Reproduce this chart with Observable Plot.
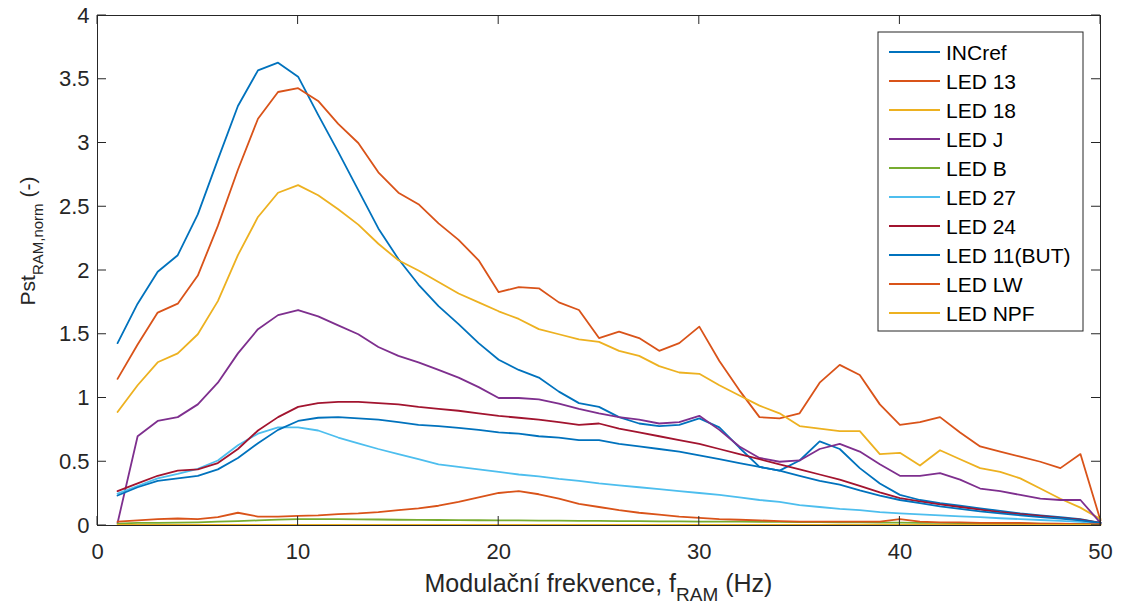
<!DOCTYPE html>
<html>
<head>
<meta charset="utf-8">
<script src="https://cdn.jsdelivr.net/npm/d3@7"></script>
<script src="https://cdn.jsdelivr.net/npm/@observablehq/plot@0.6"></script>
<style>
  html, body { margin: 0; padding: 0; background: #ffffff; }
  #chart { width: 1122px; height: 612px; }
</style>
</head>
<body>
<div id="chart"></div>
<script>
// ---- data ----
const freq = [1,2,3,4,5,6,7,8,9,10,11,12,13,14,15,16,17,18,19,20,21,22,23,24,25,26,27,28,29,30,31,32,33,34,35,36,37,38,39,40,41,42,43,44,45,46,47,48,49,50];

const incref = [1.43,1.74,1.99,2.12,2.44,2.87,3.29,3.57,3.63,3.52,3.22,2.93,2.63,2.33,2.09,1.89,1.72,1.58,1.43,1.30,1.22,1.16,1.05,0.96,0.93,0.85,0.80,0.78,0.79,0.84,0.77,0.61,0.46,0.43,0.51,0.66,0.60,0.45,0.33,0.24,0.20,0.175,0.155,0.135,0.115,0.095,0.08,0.065,0.05,0.02];
const led13 = [1.15,1.42,1.67,1.74,1.96,2.35,2.79,3.19,3.40,3.43,3.33,3.15,3.00,2.77,2.61,2.52,2.37,2.24,2.08,1.83,1.87,1.86,1.75,1.69,1.47,1.52,1.47,1.37,1.43,1.56,1.29,1.06,0.85,0.84,0.88,1.12,1.26,1.18,0.95,0.79,0.81,0.85,0.73,0.62,0.58,0.54,0.50,0.45,0.56,0.04];
const led18 = [0.89,1.10,1.28,1.35,1.50,1.76,2.12,2.42,2.61,2.67,2.59,2.48,2.36,2.21,2.08,2.00,1.91,1.82,1.75,1.68,1.62,1.54,1.50,1.46,1.44,1.37,1.33,1.25,1.20,1.19,1.10,1.02,0.94,0.88,0.78,0.76,0.74,0.74,0.56,0.57,0.47,0.59,0.52,0.45,0.42,0.37,0.29,0.21,0.14,0.05];
const ledJ = [0.02,0.70,0.82,0.85,0.95,1.12,1.35,1.54,1.65,1.69,1.64,1.57,1.50,1.40,1.33,1.28,1.22,1.16,1.085,1.00,1.00,0.99,0.955,0.915,0.88,0.85,0.83,0.80,0.81,0.86,0.75,0.62,0.53,0.50,0.51,0.60,0.64,0.58,0.48,0.39,0.39,0.41,0.36,0.29,0.27,0.24,0.21,0.20,0.20,0.02];
const ledB = [0.015,0.02,0.02,0.022,0.025,0.03,0.035,0.04,0.046,0.05,0.05,0.05,0.048,0.047,0.045,0.044,0.043,0.042,0.041,0.04,0.04,0.039,0.038,0.037,0.036,0.035,0.034,0.033,0.032,0.031,0.03,0.03,0.029,0.028,0.027,0.026,0.025,0.024,0.023,0.022,0.021,0.02,0.019,0.018,0.017,0.016,0.015,0.013,0.012,0.01];
const led27 = [0.25,0.31,0.37,0.405,0.445,0.51,0.63,0.72,0.77,0.77,0.745,0.69,0.645,0.60,0.56,0.52,0.48,0.46,0.44,0.42,0.40,0.385,0.365,0.35,0.33,0.315,0.30,0.285,0.27,0.255,0.24,0.22,0.20,0.185,0.16,0.145,0.13,0.12,0.105,0.095,0.087,0.08,0.072,0.065,0.057,0.05,0.043,0.036,0.028,0.015];
const led24 = [0.27,0.33,0.39,0.43,0.44,0.49,0.60,0.745,0.85,0.93,0.96,0.97,0.97,0.96,0.95,0.93,0.915,0.90,0.88,0.86,0.845,0.83,0.81,0.79,0.80,0.76,0.73,0.70,0.67,0.64,0.60,0.56,0.52,0.48,0.44,0.40,0.36,0.31,0.26,0.215,0.19,0.165,0.145,0.125,0.105,0.09,0.075,0.06,0.045,0.02];
const led11 = [0.235,0.30,0.35,0.37,0.39,0.44,0.53,0.645,0.75,0.82,0.845,0.85,0.84,0.83,0.81,0.79,0.78,0.765,0.75,0.73,0.72,0.70,0.69,0.67,0.67,0.64,0.62,0.60,0.58,0.55,0.52,0.49,0.46,0.43,0.39,0.35,0.32,0.275,0.235,0.20,0.175,0.15,0.13,0.11,0.095,0.08,0.065,0.055,0.04,0.02];
const ledLW = [0.03,0.04,0.05,0.055,0.05,0.065,0.10,0.07,0.07,0.075,0.08,0.09,0.095,0.105,0.12,0.135,0.155,0.185,0.22,0.255,0.27,0.245,0.21,0.17,0.145,0.12,0.10,0.085,0.07,0.06,0.05,0.045,0.04,0.035,0.03,0.03,0.03,0.03,0.03,0.05,0.03,0.025,0.025,0.02,0.02,0.02,0.015,0.015,0.01,0.01];
const ledNPF = [0.004,0.004,0.004,0.005,0.005,0.005,0.005,0.005,0.005,0.005,0.005,0.005,0.005,0.005,0.005,0.005,0.005,0.005,0.005,0.005,0.005,0.005,0.005,0.005,0.005,0.005,0.005,0.005,0.005,0.005,0.005,0.005,0.005,0.005,0.005,0.005,0.005,0.005,0.005,0.005,0.004,0.004,0.004,0.004,0.004,0.004,0.004,0.004,0.004,0.003];

const seriesNames = ["INCref","LED 13","LED 18","LED J","LED B","LED 27","LED 24","LED 11(BUT)","LED LW","LED NPF"];
const seriesValues = [incref, led13, led18, ledJ, ledB, led27, led24, led11, ledLW, ledNPF];
const seriesColors = ["#0072BD","#D95319","#EDB120","#7E2F8E","#77AC30","#4DBEEE","#A2142F","#0072BD","#D95319","#EDB120"];

const xTicks = [0,10,20,30,40,50];
const yTicks = [0,0.5,1,1.5,2,2.5,3,3.5,4];

// long table for the line mark
const rows = [];
seriesNames.forEach((name, i) => {
  freq.forEach((f, j) => rows.push({f, v: seriesValues[i][j], s: name}));
});

const FONT = "'Liberation Sans', Arial, Helvetica, sans-serif";
const INK = "#262626";

const plot = Plot.plot({
  width: 1122,
  height: 612,
  marginLeft: 97,
  marginRight: 22,
  marginTop: 15,
  marginBottom: 87,
  style: {fontFamily: FONT, fontSize: "22px", color: INK, background: "#ffffff", overflow: "visible"},
  x: {domain: [0, 50]},
  y: {domain: [0, 4]},
  color: {domain: seriesNames, range: seriesColors},
  marks: [
    Plot.line(rows, {x: "f", y: "v", z: "s", stroke: "s", strokeWidth: 1.8, strokeLinejoin: "round"}),
    Plot.frame({stroke: INK, strokeWidth: 1}),
    Plot.axisX(xTicks, {anchor: "bottom", tickSize: 0, tickPadding: 18, label: null, fill: INK, fontSize: 22}),
    Plot.axisY(yTicks, {anchor: "left", tickSize: 0, tickPadding: 8, label: null, fill: INK, fontSize: 22, tickFormat: d => String(d)})
  ]
});

document.getElementById("chart").appendChild(plot);

// ---- inward MATLAB-style ticks on all four sides, from Plot's scales ----
const sx = plot.scale("x"), sy = plot.scale("y");
const svg = d3.select(plot);
const [x0, x1] = sx.range, [y0, y1] = sy.range; // y0 bottom, y1 top
const TL = 9;
const tg = svg.append("g").attr("stroke", INK).attr("stroke-width", 1);
xTicks.forEach(t => {
  const X = sx.apply(t);
  tg.append("line").attr("x1", X).attr("x2", X).attr("y1", y0).attr("y2", y0 - TL);
  tg.append("line").attr("x1", X).attr("x2", X).attr("y1", y1).attr("y2", y1 + TL);
});
yTicks.forEach(t => {
  const Y = sy.apply(t);
  tg.append("line").attr("y1", Y).attr("y2", Y).attr("x1", x0).attr("x2", x0 + TL);
  tg.append("line").attr("y1", Y).attr("y2", Y).attr("x1", x1).attr("x2", x1 - TL);
});

// ---- axis titles with subscripts ----
const xl = svg.append("text")
  .attr("x", (x0 + x1) / 2).attr("y", 592)
  .attr("text-anchor", "middle").attr("fill", INK)
  .style("font-family", FONT).style("font-size", "25px");
xl.append("tspan").text("Modulační frekvence, f");
xl.append("tspan").attr("dy", 9).style("font-size", "19px").text("RAM");
xl.append("tspan").attr("dy", -9).text(" (Hz)");

const yl = svg.append("text")
  .attr("transform", `translate(35,241) rotate(-90)`)
  .attr("text-anchor", "middle").attr("fill", INK)
  .style("font-family", FONT).style("font-size", "21px");
yl.append("tspan").text("Pst");
yl.append("tspan").attr("dy", 8).style("font-size", "15px").text("RAM,norm");
yl.append("tspan").attr("dy", -8).text(" (-)");

// ---- legend box (top-right, inside axes) ----
const lgX = x1 - 222, lgY = y1 + 17, lgW = 205, lgRow = 29;
const lg = svg.append("g").attr("text-anchor", "start");
lg.append("rect").attr("x", lgX).attr("y", lgY).attr("width", lgW).attr("height", seriesNames.length * lgRow + 9)
  .attr("fill", "#ffffff").attr("stroke", INK).attr("stroke-width", 1);
seriesNames.forEach((name, i) => {
  const cy = lgY + 20 + i * lgRow;
  lg.append("line").attr("x1", lgX + 11).attr("x2", lgX + 62).attr("y1", cy).attr("y2", cy)
    .attr("stroke", seriesColors[i]).attr("stroke-width", 1.8);
  lg.append("text").attr("x", lgX + 68).attr("y", cy).attr("dy", "0.36em")
    .attr("text-anchor", "start")
    .attr("fill", "#000000").style("font-family", FONT).style("font-size", "21px").text(name);
});
</script>
</body>
</html>
